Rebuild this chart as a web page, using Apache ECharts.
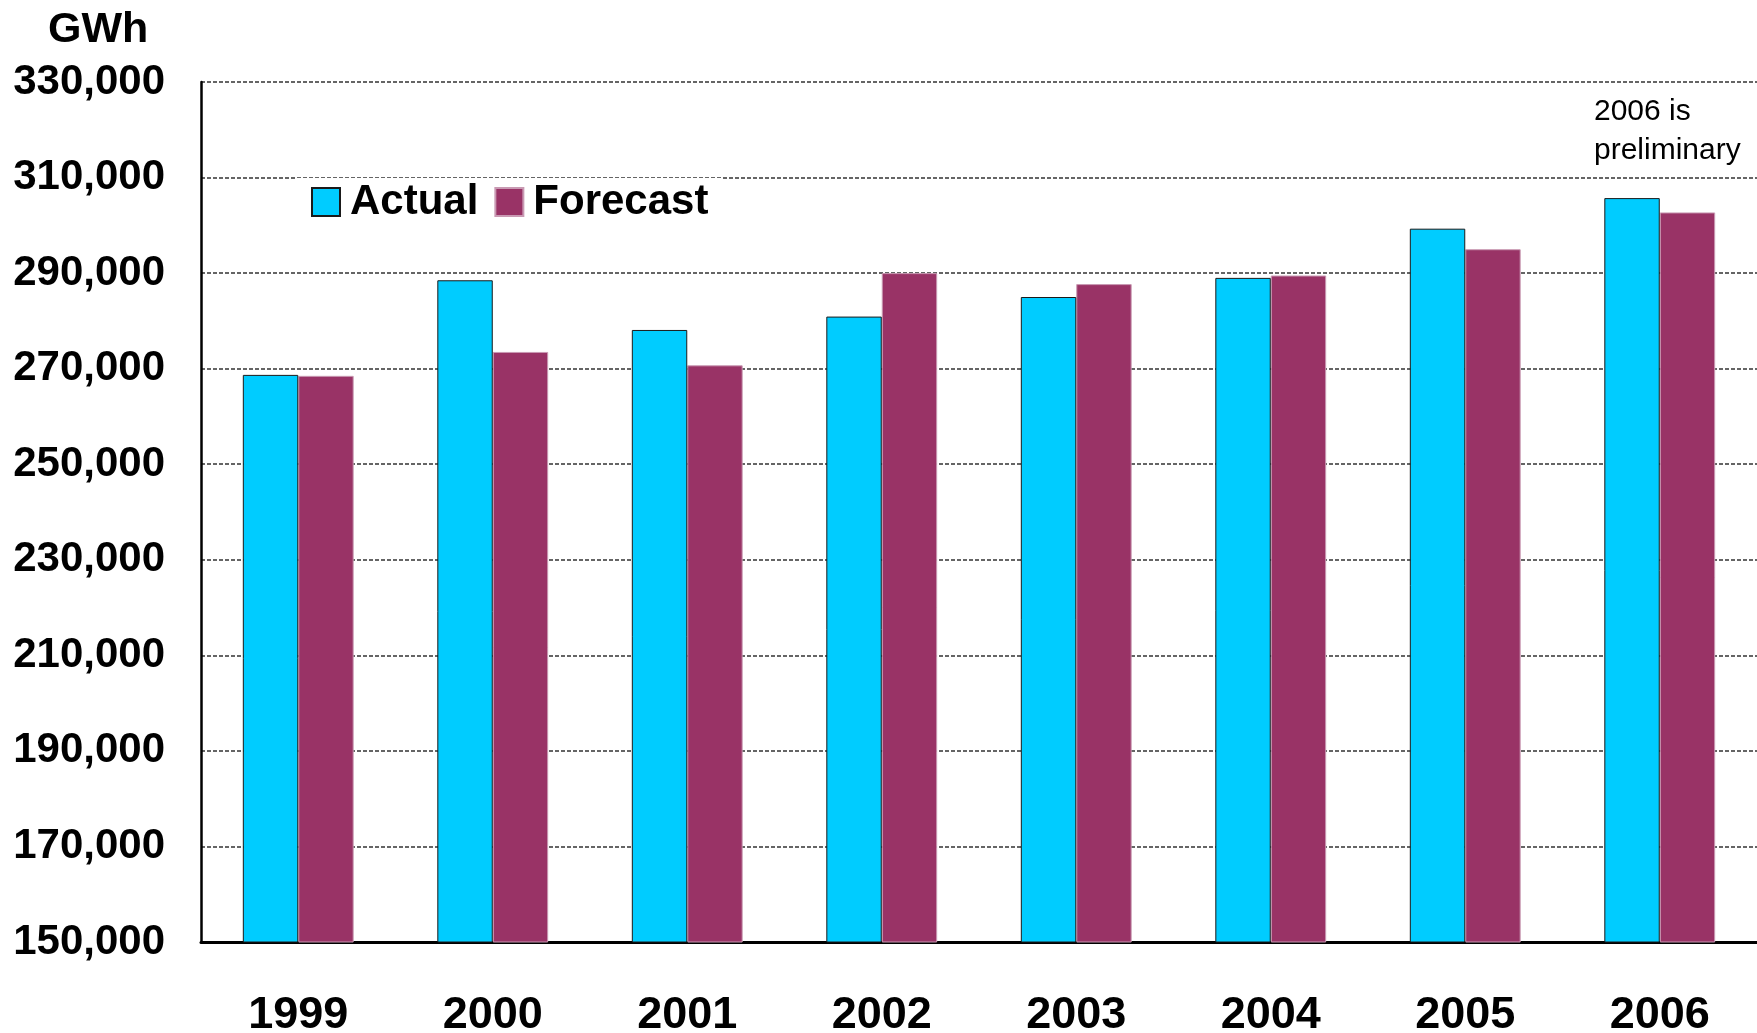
<!DOCTYPE html>
<html>
<head>
<meta charset="utf-8">
<title>Electricity consumption: actual vs forecast</title>
<script src="https://cdn.jsdelivr.net/npm/echarts@6/dist/echarts.min.js"></script>
<style>
  html, body { margin: 0; padding: 0; background: #fff; }
  #chart { width: 1757px; height: 1033px; }
</style>
</head>
<body>
<div id="chart"></div>
<script>
// Annual consumption in GWh
const years = ['1999', '2000', '2001', '2002', '2003', '2004', '2005', '2006'];
const actual = [268700, 288500, 278100, 280900, 285000, 289000, 299300, 305700];
const forecast = [268500, 273500, 270700, 290000, 287700, 289500, 295000, 302700];
const yMin = 150000;
const yMax = 330000;
const yStep = 20000;

const FONT = '"Liberation Sans", Arial, sans-serif';
const chart = echarts.init(document.getElementById('chart'), null, { renderer: 'canvas' });

chart.setOption({
  backgroundColor: '#ffffff',
  animation: false,
  grid: { left: 201, right: 0, top: 82, bottom: 91, containLabel: false, outerBoundsMode: 'none' },
  title: [
    {
      text: 'GWh',
      left: 43, top: 4,
      textStyle: { fontFamily: FONT, fontSize: 43, fontWeight: 'bold', color: '#000' }
    },
    {
      text: '2006 is\npreliminary',
      left: 1589, top: 87,
      textStyle: { fontFamily: FONT, fontSize: 30, fontWeight: 'normal', color: '#000', lineHeight: 39 }
    }
  ],
  legend: {
    left: 297, top: 178,
    padding: [3, 14, 3, 14],
    backgroundColor: '#ffffff',
    itemWidth: 28, itemHeight: 28,
    itemGap: 16,
    icon: 'rect',
    textStyle: { fontFamily: FONT, fontSize: 42, fontWeight: 'bold', color: '#000', padding: [0, 0, 0, 5] },
    data: ['Actual', 'Forecast']
  },
  xAxis: {
    type: 'category',
    data: years,
    axisLine: { lineStyle: { color: '#000', width: 3 } },
    axisTick: { show: false },
    axisLabel: { fontFamily: FONT, fontSize: 45, fontWeight: 'bold', color: '#000', margin: 51 }
  },
  yAxis: {
    type: 'value',
    min: yMin, max: yMax, interval: yStep,
    axisLine: { show: true, lineStyle: { color: '#000', width: 2.5 } },
    axisTick: { show: false },
    axisLabel: {
      fontFamily: FONT, fontSize: 42, fontWeight: 'bold', color: '#000', margin: 36,
      formatter: v => v.toLocaleString('en-US')
    },
    splitLine: { show: true, lineStyle: { color: '#333', width: 1.5, type: [4, 2] } }
  },
  series: [
    {
      name: 'Actual',
      type: 'bar',
      data: actual,
      barGap: '0%',
      barCategoryGap: '43%',
      itemStyle: { color: '#00CCFF', borderColor: '#1a1a1a', borderWidth: 1 },
      z: 3
    },
    {
      name: 'Forecast',
      type: 'bar',
      data: forecast,
      itemStyle: { color: '#993366', borderColor: '#c99ab3', borderWidth: 1 },
      z: 2
    }
  ]
});
</script>
</body>
</html>
